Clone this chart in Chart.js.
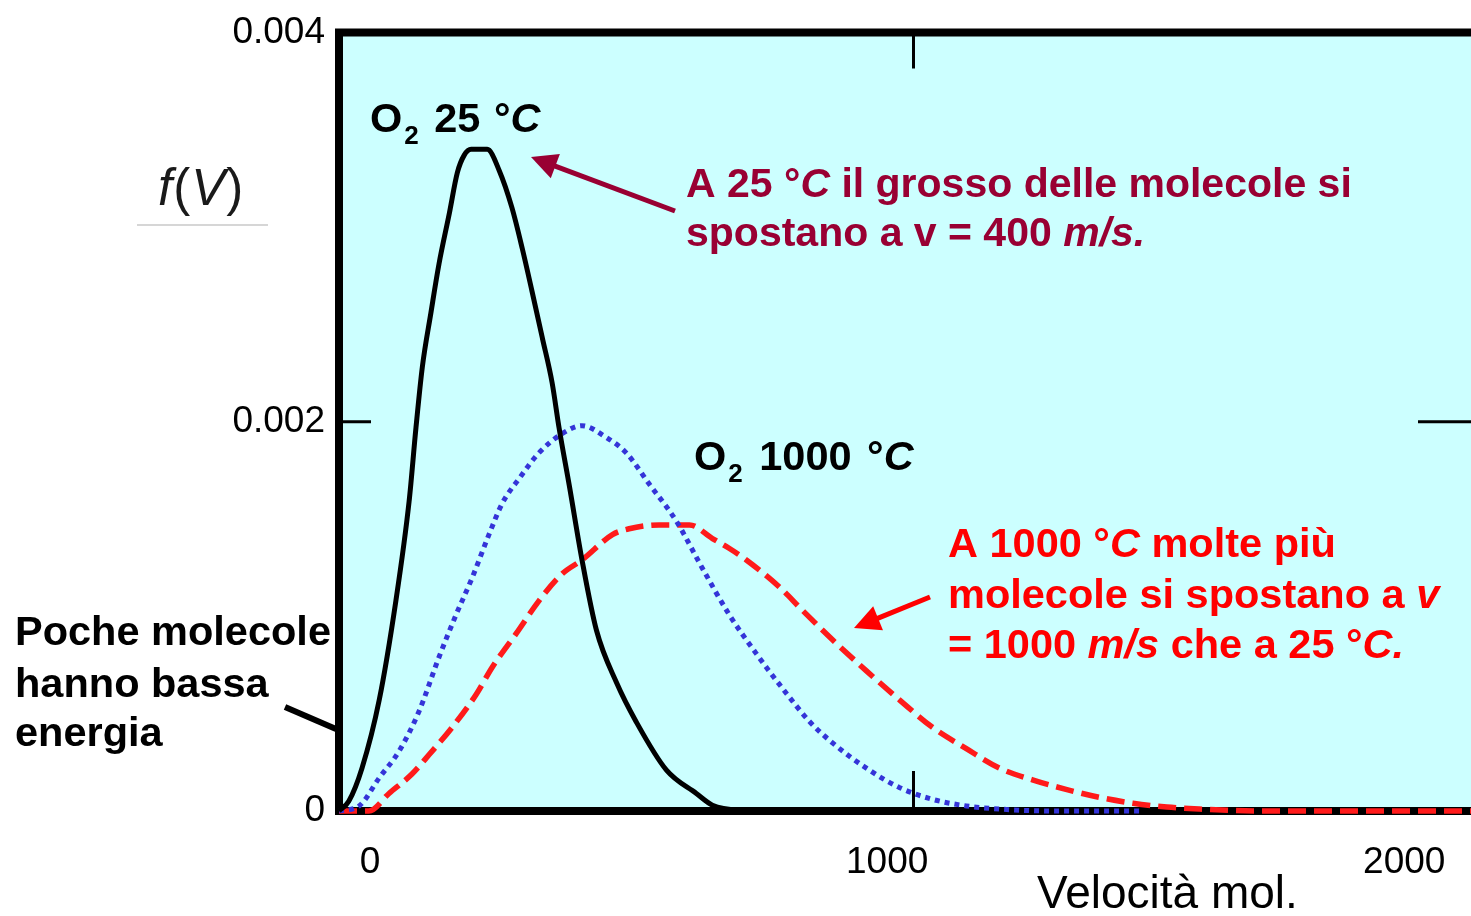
<!DOCTYPE html>
<html>
<head>
<meta charset="utf-8">
<script src="https://cdn.jsdelivr.net/npm/chart.js@4.4.1/dist/chart.umd.min.js"></script>
<style>
  html, body { margin: 0; padding: 0; background: #fff; overflow: hidden; }
  canvas { display: block; }
</style>
</head>
<body>
<canvas id="chartMaxwell" width="1488" height="916"></canvas>
<script>
// velocita (m/s) e f(V)
var speed25 = [0, 17, 40, 70, 99, 122, 134, 145, 160, 174, 192, 206, 218, 230, 258, 279, 301, 319, 336, 354, 371, 383, 401, 423, 448, 483, 517, 570, 622, 650, 697, 800];
var f25 = [0, 0.00005, 0.00022, 0.00057, 0.00108, 0.00159, 0.00197, 0.00228, 0.00256, 0.00281, 0.00307, 0.00328, 0.00337, 0.00340, 0.00340, 0.00329, 0.00310, 0.00289, 0.00267, 0.00243, 0.00220, 0.00197, 0.00167, 0.00129, 0.00093, 0.00066, 0.00046, 0.00021, 0.00009, 0.00003, 0.000005, 0];

var speedBlue = [0, 35, 70, 105, 139, 174, 204, 232, 261, 284, 314, 348, 389, 423, 465, 500, 540, 587, 632, 679, 726, 772, 819, 859, 918, 976, 1033, 1092, 1150, 1240, 1400];
var fBlue = [0, 0.000026, 0.00017, 0.00031, 0.00051, 0.00079, 0.00101, 0.00120, 0.00142, 0.00158, 0.00171, 0.00184, 0.00194, 0.00198, 0.00192, 0.00184, 0.00168, 0.00149, 0.00125, 0.00101, 0.00081, 0.00063, 0.00046, 0.00035, 0.00022, 0.00012, 0.00006, 0.000026, 0.00001, 0, 0];

var speed1000 = [0, 52, 87, 127, 157, 197, 239, 267, 308, 348, 389, 423, 476, 505, 557, 610, 650, 679, 709, 767, 807, 859, 918, 976, 1033, 1092, 1150, 1207, 1267, 1324, 1382, 1441, 1498, 1603, 2000];
var f1000 = [0, 0, 0.00009, 0.00019, 0.00029, 0.00043, 0.00060, 0.00074, 0.00091, 0.00108, 0.00122, 0.00129, 0.00142, 0.00145, 0.00147, 0.00147, 0.00140, 0.00135, 0.00129, 0.00115, 0.00103, 0.00088, 0.00072, 0.00057, 0.00043, 0.00032, 0.00022, 0.00016, 0.00011, 0.00007, 0.00004, 0.00002, 0.00001, 0, 0];

var xTicks = [0, 1000, 2000];
var xTickLabels = ['0', '1000', '2000'];
var yTicks = [0, 0.002, 0.004];
var yTickLabels = ['0', '0.002', '0.004'];

var FONT = '"Liberation Sans", Arial, sans-serif';
var DARKRED = '#990033';
var RED = '#ff0000';

function toPoints(xs, ys) {
    return xs.map(function (v, i) { return { x: v, y: ys[i] }; });
}

// testo con pezzi corsivi / pedici; gap = spazio extra dopo il pezzo
function drawRich(ctx, x, y, parts, size, color, weight) {
    var cx = x;
    ctx.fillStyle = color;
    ctx.textBaseline = 'alphabetic';
    ctx.textAlign = 'left';
    parts.forEach(function (p) {
        var s = p.sub ? Math.round(size * 0.62) : size;
        ctx.font = (p.it ? 'italic ' : '') + weight + ' ' + s + 'px ' + FONT;
        ctx.fillText(p.t, cx, y + (p.sub ? size * 0.3 : 0));
        cx += ctx.measureText(p.t).width + (p.gap || 0);
    });
}

function drawArrow(ctx, x1, y1, x2, y2, color, width, head) {
    var a = Math.atan2(y2 - y1, x2 - x1);
    ctx.strokeStyle = color;
    ctx.fillStyle = color;
    ctx.lineWidth = width;
    ctx.beginPath();
    ctx.moveTo(x1, y1);
    ctx.lineTo(x2 - Math.cos(a) * head * 0.8, y2 - Math.sin(a) * head * 0.8);
    ctx.stroke();
    if (head > 0) {
        ctx.beginPath();
        ctx.moveTo(x2, y2);
        ctx.lineTo(x2 - head * Math.cos(a) + head * 0.5 * Math.sin(a), y2 - head * Math.sin(a) - head * 0.5 * Math.cos(a));
        ctx.lineTo(x2 - head * Math.cos(a) - head * 0.5 * Math.sin(a), y2 - head * Math.sin(a) + head * 0.5 * Math.cos(a));
        ctx.closePath();
        ctx.fill();
    }
}

// sfondo azzurro + cornice + tacche interne
var framePlugin = {
    id: 'frame',
    beforeDatasetsDraw: function (chart) {
        var ctx = chart.ctx, a = chart.chartArea;
        var xs = chart.scales.x, ys = chart.scales.y;
        ctx.save();
        ctx.fillStyle = '#ccffff';
        ctx.fillRect(a.left, a.top, a.right - a.left, a.bottom - a.top);

        ctx.strokeStyle = '#000';
        ctx.lineWidth = 8;
        ctx.beginPath();
        ctx.moveTo(chart.width, a.top);
        ctx.lineTo(a.left, a.top);
        ctx.lineTo(a.left, a.bottom);
        ctx.lineTo(chart.width, a.bottom);
        ctx.stroke();

        ctx.lineWidth = 3;
        var tx = xs.getPixelForValue(1000);
        var ty = ys.getPixelForValue(0.002);
        ctx.beginPath();
        ctx.moveTo(tx, a.top); ctx.lineTo(tx, a.top + 36);
        ctx.moveTo(tx, a.bottom); ctx.lineTo(tx, a.bottom - 40);
        ctx.moveTo(a.left, ty); ctx.lineTo(a.left + 32, ty);
        ctx.moveTo(a.right - 70, ty); ctx.lineTo(a.right, ty);
        ctx.stroke();
        ctx.restore();
    },
    afterDraw: function (chart) {
        var ctx = chart.ctx;
        ctx.save();

        // titolo asse y
        drawRich(ctx, 158, 205, [{ t: 'f', it: true, gap: 1 }, { t: '(', gap: 1 }, { t: 'V', it: true, gap: 1 }, { t: ')' }], 51, '#1a1a1a', 'normal');
        ctx.strokeStyle = '#d6d6d6';
        ctx.lineWidth = 2;
        ctx.beginPath();
        ctx.moveTo(137, 225); ctx.lineTo(268, 225);
        ctx.stroke();

        // titolo asse x
        drawRich(ctx, 1037, 908, [{ t: 'Velocità mol.' }], 46, '#000', 'normal');

        drawRich(ctx, 370, 132, [{ t: 'O', gap: 2 }, { t: '2', sub: true, gap: 4 }, { t: ' 25 ', gap: 2 }, { t: '°' }, { t: 'C', it: true }], 41.5, '#000', 'bold');
        drawRich(ctx, 694, 470, [{ t: 'O', gap: 2 }, { t: '2', sub: true, gap: 5 }, { t: ' 1000 ', gap: 4 }, { t: '°' }, { t: 'C', it: true }], 41.5, '#000', 'bold');

        drawRich(ctx, 686, 197, [{ t: 'A 25 °' }, { t: 'C', it: true }, { t: ' il grosso delle molecole si' }], 41, DARKRED, 'bold');
        drawRich(ctx, 686, 246, [{ t: 'spostano a v = 400 ' }, { t: 'm/s.', it: true }], 41, DARKRED, 'bold');
        drawArrow(ctx, 675, 211, 531, 157, DARKRED, 5, 26);

        drawRich(ctx, 948, 557, [{ t: 'A 1000 °' }, { t: 'C', it: true }, { t: ' molte più' }], 41.5, RED, 'bold');
        drawRich(ctx, 948, 608, [{ t: 'molecole si spostano a ' }, { t: 'v', it: true }], 41.5, RED, 'bold');
        drawRich(ctx, 948, 658, [{ t: '= 1000 ' }, { t: 'm/s', it: true }, { t: ' che a 25 °' }, { t: 'C.', it: true }], 41.5, RED, 'bold');
        drawArrow(ctx, 930, 597, 854, 628, RED, 5, 26);

        drawRich(ctx, 15, 645, [{ t: 'Poche molecole' }], 41.5, '#000', 'bold');
        drawRich(ctx, 15, 697, [{ t: 'hanno bassa' }], 41.5, '#000', 'bold');
        drawRich(ctx, 15, 746, [{ t: 'energia' }], 41.5, '#000', 'bold');
        drawArrow(ctx, 285, 707, 336, 729, '#000', 6, 0);

        ctx.restore();
    }
};

var ctx = document.getElementById('chartMaxwell').getContext('2d');
window.MyChartMaxwell = new Chart(ctx, {
    type: 'line',
    data: {
        datasets: [{
            label: 'O2 25 °C',
            data: toPoints(speed25, f25),
            borderColor: '#000',
            borderWidth: 5,
            pointRadius: 0,
            cubicInterpolationMode: 'monotone',
            clip: false
        }, {
            label: 'punteggiata',
            data: toPoints(speedBlue, fBlue),
            borderColor: '#3434d8',
            borderWidth: 5,
            borderDash: [5, 5],
            pointRadius: 0,
            cubicInterpolationMode: 'monotone',
            clip: false
        }, {
            label: 'O2 1000 °C',
            data: toPoints(speed1000, f1000),
            borderColor: '#ff1a1a',
            borderWidth: 5.5,
            borderDash: [18, 8],
            pointRadius: 0,
            cubicInterpolationMode: 'monotone',
            clip: false
        }]
    },
    options: {
        responsive: false,
        animation: false,
        layout: { padding: { top: 32, left: 0, right: 0, bottom: 0 } },
        plugins: {
            legend: { display: false },
            tooltip: { enabled: false }
        },
        scales: {
            x: {
                type: 'linear',
                display: false,
                min: 0,
                max: 2000
            },
            xl: {
                type: 'linear',
                position: 'bottom',
                min: -60,
                max: 2162,
                grid: { display: false, drawTicks: false },
                border: { display: false },
                afterBuildTicks: function (scale) {
                    scale.ticks = xTicks.map(function (v) { return { value: v }; });
                },
                ticks: {
                    padding: 30,
                    color: '#000',
                    font: { family: FONT, size: 37 },
                    maxRotation: 0,
                    callback: function (v, i) { return xTickLabels[i]; }
                },
                afterFit: function (scale) { scale.height = 105; }
            },
            y: {
                type: 'linear',
                min: 0,
                max: 0.004,
                grid: { display: false, drawTicks: false },
                border: { display: false },
                afterBuildTicks: function (scale) {
                    scale.ticks = yTicks.map(function (v) { return { value: v }; });
                },
                ticks: {
                    padding: 14,
                    color: '#000',
                    font: { family: FONT, size: 37, lineHeight: 1 },
                    callback: function (v, i) { return yTickLabels[i]; }
                },
                afterFit: function (scale) { scale.width = 339; }
            }
        }
    },
    plugins: [framePlugin]
});
</script>
</body>
</html>
